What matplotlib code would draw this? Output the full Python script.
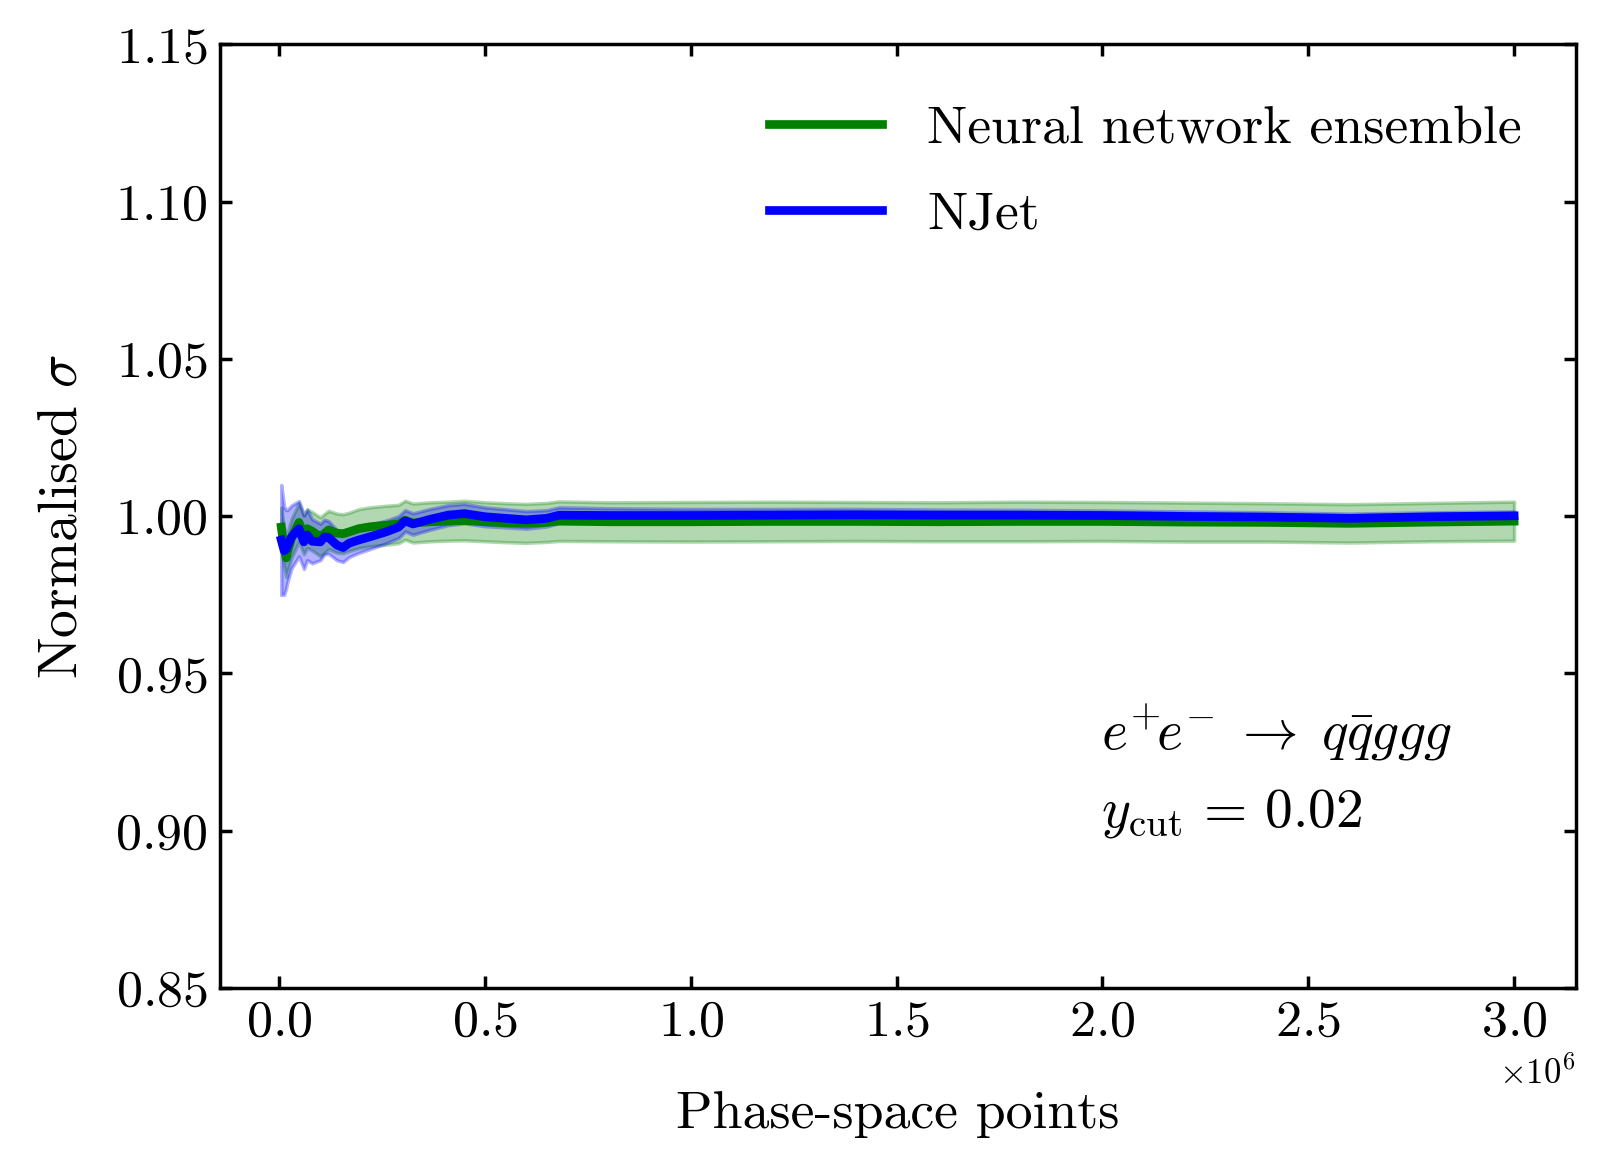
import numpy as np
import matplotlib
matplotlib.use("Agg")
import matplotlib.pyplot as plt

plt.rcParams["font.family"] = "serif"
plt.rcParams["font.serif"] = ["cmr10"]
plt.rcParams["mathtext.fontset"] = "cm"
plt.rcParams["axes.formatter.use_mathtext"] = True
plt.rcParams["axes.unicode_minus"] = False

# phase-space points (running cross section)
points = np.array([0.005, 0.012, 0.017, 0.02, 0.03, 0.048, 0.06, 0.068, 0.08, 0.10,
                   0.11, 0.12, 0.14, 0.155, 0.17, 0.193, 0.22, 0.26, 0.29, 0.306,
                   0.325, 0.367, 0.41, 0.45, 0.5, 0.55, 0.6, 0.65, 0.68, 0.8,
                   1.0, 1.2, 1.4, 1.6, 1.8, 2.0, 2.2, 2.4, 2.6, 2.8, 3.0]) * 1e6

nn_sigma = [0.9965, 0.9900, 0.9867, 0.9885, 0.9930, 0.9980, 0.9940, 0.9960, 0.9952, 0.9934,
            0.9945, 0.9956, 0.9946, 0.9944, 0.9950, 0.9960, 0.9966, 0.9971, 0.9975, 0.9987,
            0.9978, 0.9982, 0.9984, 0.9986, 0.9982, 0.9979, 0.9977, 0.9980, 0.9984, 0.9982,
            0.9982, 0.9983, 0.9983, 0.9982, 0.9983, 0.9983, 0.9981, 0.9980, 0.9977, 0.9981, 0.9984]
nn_err = [0.0062, 0.0062, 0.0061, 0.0061, 0.0062, 0.0062, 0.0061, 0.0062, 0.0061, 0.0062,
          0.0062, 0.0061, 0.0062, 0.0062, 0.0061, 0.0062, 0.0062, 0.0062, 0.0061, 0.0062,
          0.0062, 0.0062, 0.0062, 0.0063, 0.0062, 0.0062, 0.0062, 0.0062, 0.0063, 0.0062,
          0.0063, 0.0063, 0.0062, 0.0062, 0.0063, 0.0062, 0.0062, 0.0061, 0.0061, 0.0061, 0.0062]

njet_sigma = [0.9924, 0.9890, 0.9895, 0.9905, 0.9934, 0.9960, 0.9918, 0.9940, 0.9920, 0.9918,
              0.9934, 0.9932, 0.9908, 0.9900, 0.9914, 0.9924, 0.9934, 0.9950, 0.9965, 0.9985,
              0.9975, 0.9990, 1.0003, 1.0008, 0.9998, 0.9993, 0.9988, 0.9993, 1.0003, 1.0002,
              1.0002, 1.0003, 1.0004, 1.0003, 1.0003, 1.0002, 0.9999, 0.9997, 0.9993, 0.9998, 1.0001]
njet_err = [0.0175, 0.0140, 0.0124, 0.0115, 0.0100, 0.0088, 0.0086, 0.0080, 0.0070, 0.0058,
            0.0055, 0.0052, 0.0048, 0.0046, 0.0044, 0.0041, 0.0039, 0.0036, 0.0035, 0.0034,
            0.0034, 0.0033, 0.0032, 0.0031, 0.0030, 0.0029, 0.0028, 0.0026, 0.0025, 0.0023,
            0.0021, 0.0020, 0.0019, 0.0018, 0.0017, 0.0016, 0.0016, 0.0015, 0.0015, 0.0014, 0.0014]

nn_sigma, nn_err = np.array(nn_sigma), np.array(nn_err)
njet_sigma, njet_err = np.array(njet_sigma), np.array(njet_err)

fig, ax = plt.subplots(figsize=(6.412, 4.676))
fig.subplots_adjust(left=0.137, right=0.983, top=0.962, bottom=0.155)

ax.plot(points, nn_sigma, color="green", lw=2.5, label="Neural network ensemble")
ax.fill_between(points, nn_sigma - nn_err, nn_sigma + nn_err, color="green", alpha=0.3)
ax.plot(points, njet_sigma, color="blue", lw=2.5, label="NJet")
ax.fill_between(points, njet_sigma - njet_err, njet_sigma + njet_err, color="blue", alpha=0.3)

ax.set_ylim(0.85, 1.15)
ax.set_xlabel("Phase-space points", fontsize=15.5, labelpad=13)
ax.set_ylabel(r"Normalised $\sigma$", fontsize=16, labelpad=8)
ax.tick_params(direction="in", top=True, right=True, labelsize=15, width=1.0, length=3.5)
for s in ax.spines.values():
    s.set_linewidth(1.0)
ax.xaxis.get_offset_text().set_fontsize(10)

ax.legend(loc="upper right", bbox_to_anchor=(1.0, 0.993), frameon=False, fontsize=15.5,
          handlelength=2.1, handletextpad=0.85, labelspacing=0.72, borderaxespad=0.6)
ax.text(0.65, 0.23, "$e^{+}\\!e^{-}\\;\\to\\; q\\bar{q}ggg$\n$y_{\\rm cut}\\,=\\,0.02$",
        transform=ax.transAxes, fontsize=16, va="center", ha="left",
        linespacing=1.6)

fig.savefig("out.png", dpi=250)
